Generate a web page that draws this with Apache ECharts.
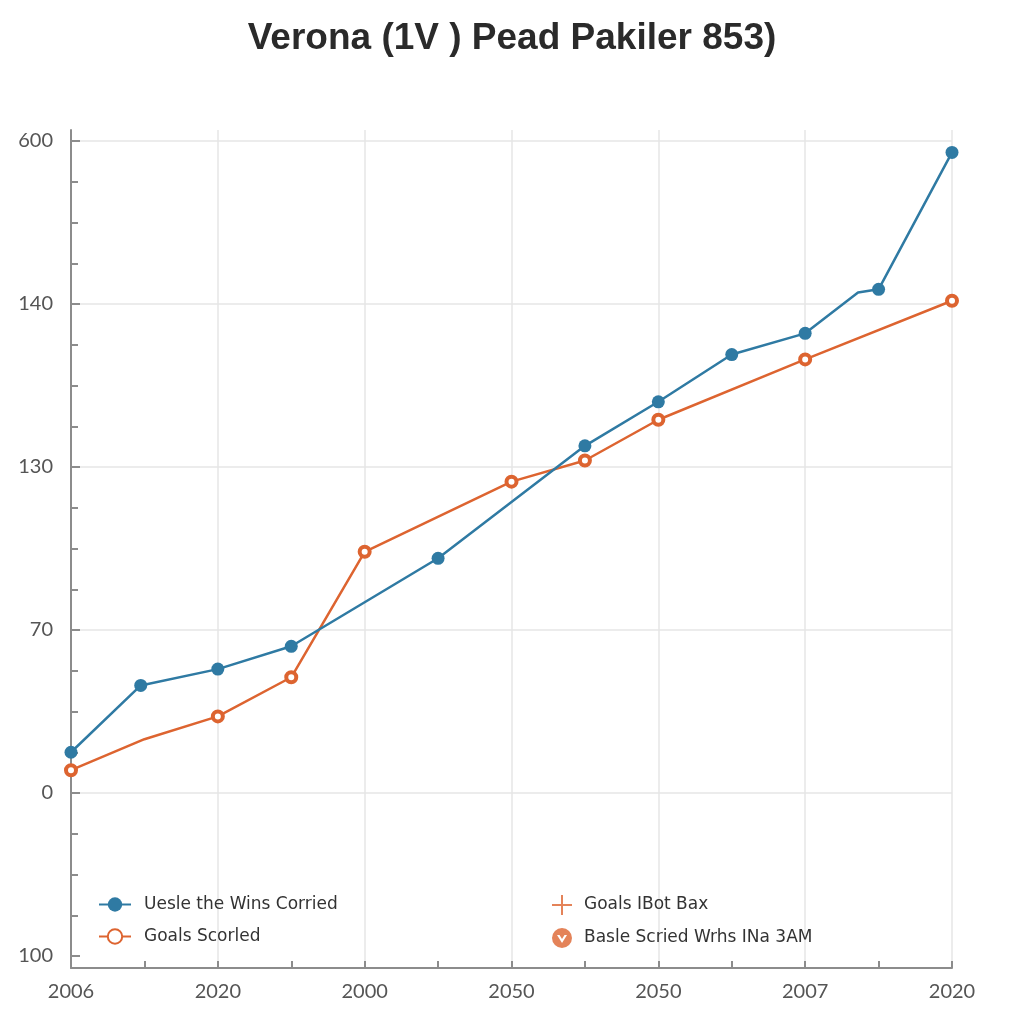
<!DOCTYPE html>
<html>
<head>
<meta charset="utf-8">
<title>Verona</title>
<script src="https://cdn.jsdelivr.net/npm/echarts@6/dist/echarts.min.js"></script>
<style>
  html, body { margin: 0; padding: 0; background: #fff; }
  #box { width: 1024px; height: 1024px; }
</style>
</head>
<body>
<div id="box"></div>
<script>
// 数据
const titleText = 'Verona (1V ) Pead Pakiler 853)'
const xLabels = ['2006', '2020', '2000', '2050', '2050', '2007', '2020']
const yLabels = ['100', '0', '70', '130', '140', '600']
const seriesNames = ['Uesle the Wins Corried', 'Goals Scorled', 'Goals IBot Bax', 'Basle Scried Wrhs INa 3AM']
// [x, y] in axis steps; mark 0 = no marker at that kink
const winsX = [0, 0.95, 2, 3, 5, 7, 8, 9, 10, 10.72, 11, 12]
const winsY = [1.25, 1.66, 1.76, 1.9, 2.44, 3.13, 3.4, 3.69, 3.82, 4.07, 4.09, 4.93]
const winsMark = [1, 1, 1, 1, 1, 1, 1, 1, 1, 0, 1, 1]
const goalsX = [0, 1, 2, 3, 4, 6, 7, 8, 10, 12]
const goalsY = [1.14, 1.33, 1.47, 1.71, 2.48, 2.91, 3.04, 3.29, 3.66, 4.02]
const goalsMark = [1, 0, 1, 1, 1, 1, 1, 1, 1, 1]

const blue = '#2f7aa3'
const orange = '#dd6430'
const axisGrey = '#8c8c8c'
const gridGrey = '#e6e6e6'

function toData(xs, ys, marks) {
    return xs.map(function (x, i) {
        let item = { value: [x, ys[i]] }
        if (!marks[i]) item.symbol = 'none'
        return item
    })
}

function setOption() {
    let option = {
        backgroundColor: '#ffffff',
        animation: false,
        title: {
            text: titleText,
            left: 'center',
            top: 15,
            textStyle: {
                fontSize: 37,
                fontWeight: 'bold',
                fontFamily: 'Liberation Sans',
                color: '#2a2a2a'
            }
        },
        legend: [
            {
                data: [seriesNames[0], seriesNames[1]],
                orient: 'vertical',
                left: 93,
                top: 891,
                itemWidth: 32,
                itemHeight: 18,
                itemGap: 15,
                textStyle: { fontSize: 17, fontFamily: 'DejaVu Sans', color: '#333', padding: [0, 0, 0, 8] }
            },
            {
                data: [
                    { name: seriesNames[2], icon: 'path://M9,0h2v9h9v2h-9v9h-2v-9h-9v-2h9z' },
                    { name: seriesNames[3], icon: 'path://M10,0A10,10,0,1,1,9.99,0Z M5,7L10,15L15,7L12.5,7L10,11L7.5,7Z' }
                ],
                orient: 'vertical',
                left: 547,
                top: 890,
                itemWidth: 20,
                itemHeight: 20,
                itemGap: 13,
                textStyle: { fontSize: 17, fontFamily: 'DejaVu Sans', color: '#333', padding: [0, 0, 0, 7] }
            }
        ],
        // 外层网格：x轴和y轴线；内层网格：数据和y刻度
        grid: [
            { left: 71, right: 72, top: 130, bottom: 56 },
            { left: 71, right: 72, top: 141, bottom: 68 }
        ],
        xAxis: [
            {
                type: 'value',
                gridIndex: 0,
                min: 0,
                max: 12,
                interval: 2,
                axisLine: { lineStyle: { color: axisGrey, width: 2 } },
                axisTick: { inside: true, length: 7, lineStyle: { color: axisGrey, width: 2 } },
                minorTick: { show: true, splitNumber: 2, length: 7, lineStyle: { color: axisGrey, width: 2 } },
                axisLabel: {
                    margin: 14,
                    fontSize: 20,
                    fontFamily: 'Lato',
                    color: '#555',
                    formatter: function (v) { return xLabels[Math.round(v / 2)] }
                },
                splitLine: { show: true, lineStyle: { color: gridGrey, width: 1.5 } }
            },
            {
                type: 'value',
                gridIndex: 1,
                min: 0,
                max: 12,
                show: false
            }
        ],
        yAxis: [
            {
                type: 'value',
                gridIndex: 0,
                min: 0,
                max: 1,
                axisLine: { show: true, lineStyle: { color: axisGrey, width: 2 } },
                axisTick: { show: false },
                axisLabel: { show: false },
                splitLine: { show: false }
            },
            {
                type: 'value',
                gridIndex: 1,
                min: 0,
                max: 5,
                interval: 1,
                axisLine: { show: false },
                axisTick: { show: true, inside: true, length: 9, lineStyle: { color: axisGrey, width: 2 } },
                minorTick: { show: true, splitNumber: 4, length: 7, lineStyle: { color: axisGrey, width: 2 } },
                axisLabel: {
                    margin: 18,
                    fontSize: 20,
                    fontFamily: 'Lato',
                    color: '#555',
                    formatter: function (v) { return yLabels[Math.round(v)] }
                },
                splitLine: {
                    show: true,
                    lineStyle: { color: ['rgba(0,0,0,0)', gridGrey, gridGrey, gridGrey, gridGrey, gridGrey], width: 1.5 }
                }
            }
        ],
        series: [
            {
                name: seriesNames[0],
                type: 'line',
                xAxisIndex: 1,
                yAxisIndex: 1,
                data: toData(winsX, winsY, winsMark),
                symbol: 'circle',
                symbolSize: 13,
                lineStyle: { color: blue, width: 2.5 },
                itemStyle: { color: blue },
                z: 4
            },
            {
                name: seriesNames[1],
                type: 'line',
                xAxisIndex: 1,
                yAxisIndex: 1,
                data: toData(goalsX, goalsY, goalsMark),
                symbol: 'circle',
                symbolSize: 10,
                lineStyle: { color: orange, width: 2.5 },
                itemStyle: { color: '#ffffff', borderColor: orange, borderWidth: 4 },
                z: 3
            },
            {
                name: seriesNames[2],
                type: 'scatter',
                xAxisIndex: 1,
                yAxisIndex: 1,
                data: [],
                itemStyle: { color: orange }
            },
            {
                name: seriesNames[3],
                type: 'scatter',
                xAxisIndex: 1,
                yAxisIndex: 1,
                data: [],
                itemStyle: { color: orange }
            }
        ]
    }
    return option
}

let charts = echarts.init(document.getElementById('box'))
charts.setOption(setOption())
</script>
</body>
</html>
